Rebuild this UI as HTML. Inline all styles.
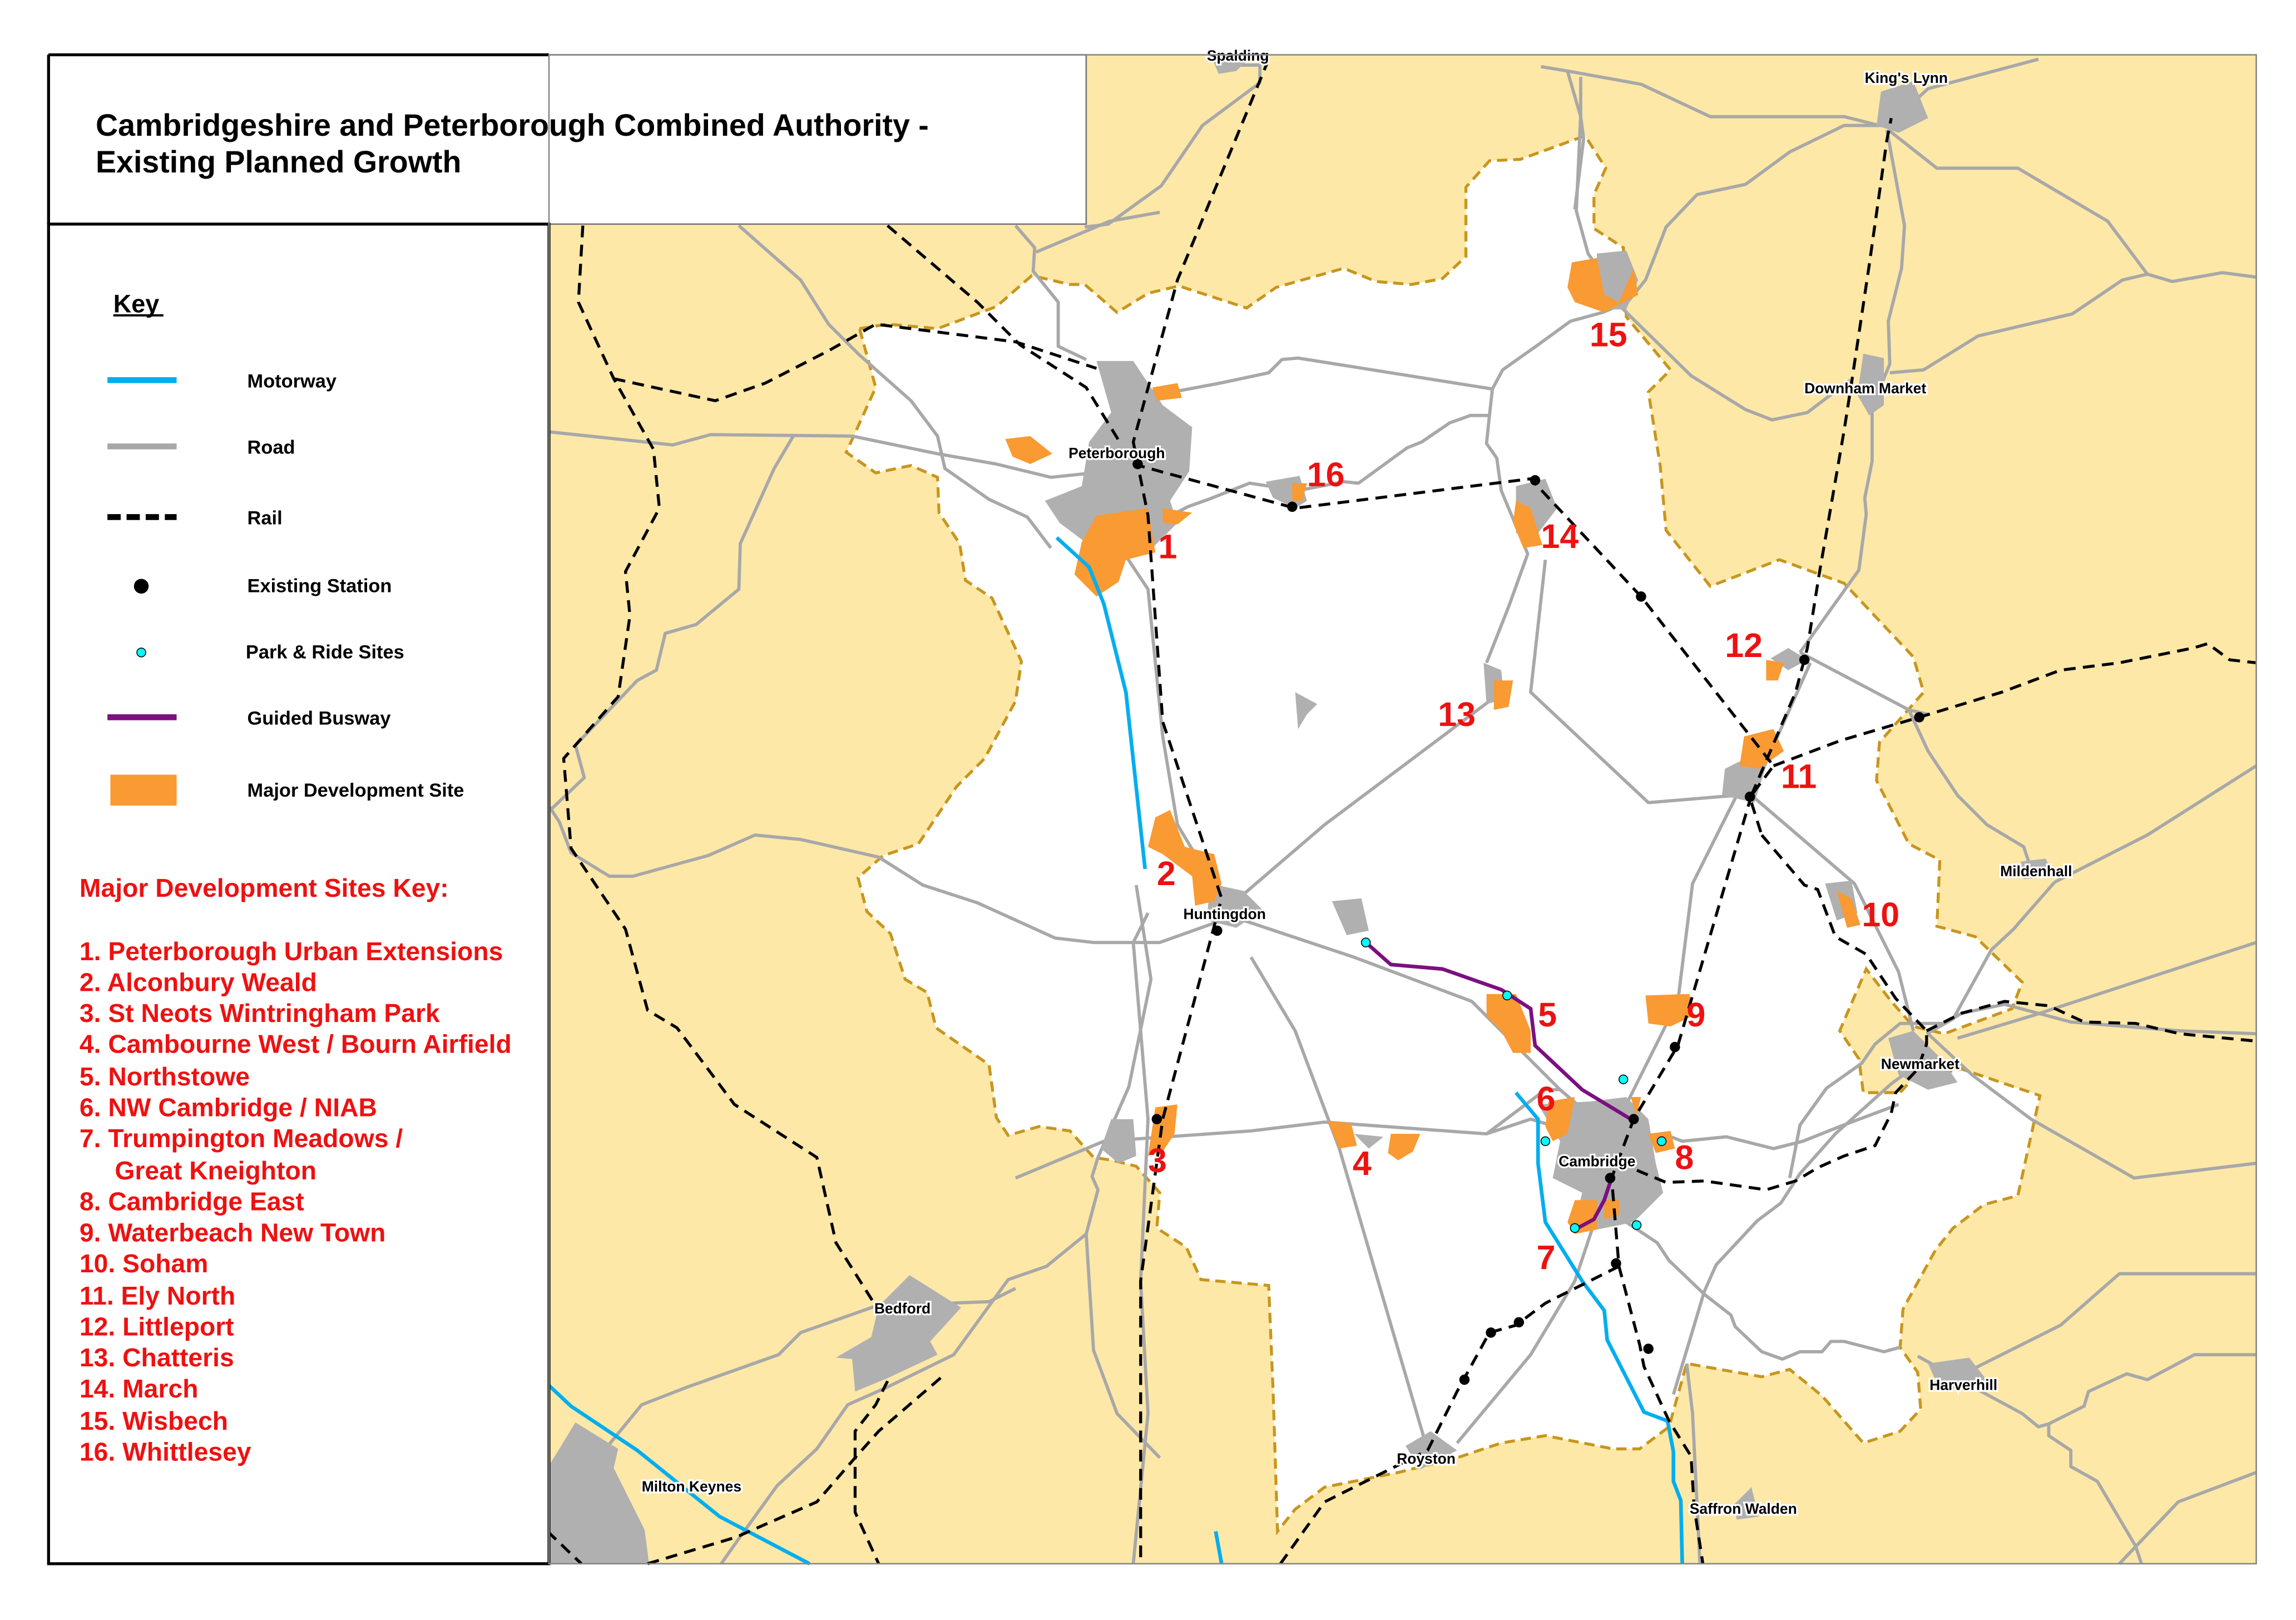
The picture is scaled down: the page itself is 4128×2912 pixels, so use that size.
<!DOCTYPE html>
<html><head><meta charset="utf-8"><style>html,body{margin:0;padding:0;background:#fff}svg{display:block}</style></head>
<body>
<svg width="4128" height="2912" viewBox="0 0 1560 1100" xmlns="http://www.w3.org/2000/svg" font-family="Liberation Sans, sans-serif">
<rect width="1560" height="1100" fill="#fff"/>
<rect x="373" y="37" width="1160" height="1025" fill="#fde8a8"/>
<path d="M584,223 L603,220 L637,223 L677,208 L701,187 L727,193 L737,193 L759,212 L780,199 L801,194 L847,209 L867,195 L913,182 L935,191 L959,193 L980,189 L996,174 L996,127 L1012,109 L1033,108 L1077,92 L1091,114 L1083,132 L1083,155 L1103,168 L1105,215 L1135,251 L1120,266 L1128,316 L1132,360 L1162,398 L1209,380 L1253,396 L1300,446 L1307,470 L1277,504 L1275,530 L1297,573 L1318,584 L1316,629 L1342,636 L1374,667 L1367,685 L1321,702 L1300,697 L1285,680 L1268,658 L1250,700 L1263,719 L1266,742 L1291,742 L1300,732 L1333,726 L1386,744 L1371,812 L1348,818 L1327,834 L1315,849 L1293,889 L1291,915 L1303,932 L1305,957 L1291,972 L1266,980 L1238,948 L1216,930 L1197,935 L1146,926 L1134,969 L1114,984 L1096,984 L1050,975 L1020,980 L990,990 L950,1000 L900,1010 L880,1025 L868,1040 L865,945 L862,873 L816,869 L806,847 L786,834 L788,810 L772,792 L756,788 L743,786 L727,768 L706,765 L685,771 L677,759 L672,723 L636,698 L630,674 L615,665 L605,634 L589,619 L583,596 L600,581 L624,573 L650,534 L669,515 L690,476 L694,449 L674,406 L656,394 L652,369 L638,348 L637,324 L619,316 L595,321 L575,307 L595,263 Z" fill="#fff" stroke="#c8961e" stroke-width="2" stroke-dasharray="7,4"/>
<!-- roads -->
<g fill="none" stroke="#a8a8a8" stroke-width="2.2" stroke-linejoin="round">
<path d="M776,265 L797,266 L829,260 L862,253 L871,244 L882,243 L1014,264 L1021,251 L1045,234 L1067,218 L1089,212 L1103,206"/>
<path d="M1014,264 L1012,282 L999,282 L985,287 L966,300 L956,304 L923,328 L913,327 L882,333 L849,328 L821,339 L807,344 L792,352 L785,347"/>
<path d="M1012,282 L1010,301 L1017,311 L1020,333 L1038,376 L1025,412 L1010,450"/>
<path d="M1070,142 L1076,94 L1074,79 L1065,48 L1047,45"/>
<path d="M1065,48 L1115,57 L1162,79 L1253,79 L1277,85"/>
<path d="M1101,204 L1079,172 L1071,143 L1074,78 L1074,52"/>
<path d="M1105,206 L1118,190 L1132,154 L1153,132 L1186,125 L1216,103 L1253,85 L1283,85 L1310,60 L1385,40"/>
<path d="M1282,88 L1294,153 L1292,182 L1283,218 L1284,247 L1272,276 L1272,313 L1267,338 L1268,349 L1263,387 L1223,443"/>
<path d="M1101,208 L1149,255 L1186,278 L1204,285 L1228,280 L1257,258"/>
<path d="M1284,253 L1307,251 L1344,228 L1408,213 L1442,190 L1459,186 L1476,191 L1510,185 L1533,188"/>
<path d="M1283,88 L1316,114 L1371,114 L1432,150 L1459,186"/>
<path d="M1223,443 L1297,482 L1310,485"/>
<path d="M1297,482 L1310,510 L1330,540 L1350,560 L1375,575 L1380,590"/>
<path d="M1396,599 L1459,567 L1533,520"/>
<path d="M1396,599 L1368,631 L1353,645 L1327,692 L1309,702"/>
<path d="M1309,702 L1333,688 L1362,682 L1407,694 L1481,700 L1533,702"/>
<path d="M1303,921 L1348,946 L1374,960 L1385,969 L1392,967 L1416,955 L1419,945 L1445,933 L1459,937 L1491,920 L1533,920"/>
<path d="M1392,967 L1392,975 L1407,985 L1407,996 L1425,1006 L1451,1050 L1455,1062"/>
<path d="M1105,830 L1126,844 L1134,856 L1158,879 L1176,893 L1179,901 L1197,918 L1211,923 L1223,918 L1238,918 L1244,911 L1253,911 L1280,918 L1291,915"/>
<path d="M1137,947 L1158,877 L1166,859 L1194,829 L1210,817 L1223,797 L1247,770 L1285,736 L1300,725"/>
<path d="M1216,800 L1223,764 L1241,739 L1265,722 L1274,709 L1291,695 L1321,695"/>
<path d="M1130,770 L1143,775 L1173,772 L1205,780 L1225,775 L1250,765 L1290,750"/>
<path d="M1146,926 L1150,960 L1155,1062"/>
<path d="M1310,702 L1340,730 L1380,760 L1450,800 L1533,790"/>
<path d="M1440,1062 L1480,1020 L1533,1000"/>
<path d="M1330,935 L1400,900 L1440,865 L1533,865"/>
<path d="M1533,640 L1380,690 L1330,705"/>
<!-- west -->
<path d="M372,293 L457,302 L483,295 L579,296 L637,308 L677,315 L714,324 L743,321"/>
<path d="M502,153 L544,190 L563,220 L584,241 L619,272 L637,296 L642,318 L672,339 L698,351 L714,372"/>
<path d="M539,296 L526,318 L503,369 L502,400 L473,424 L452,430 L446,455 L433,462 L391,506 L397,528 L375,549"/>
<path d="M372,546 L380,558 L388,579 L414,595 L430,595 L481,581 L513,567 L544,570 L597,582 L627,601 L664,613 L717,637 L743,640 L788,640 L830,625"/>
<path d="M772,601 L782,665 L767,738 L746,786 L742,799 L746,808 L738,838 L711,860 L685,869 L648,920 L603,942 L576,954 L555,984 L528,1009 L502,1045 L490,1062"/>
<path d="M738,838 L743,917 L759,960 L788,990"/>
<path d="M404,993 L436,954 L467,942 L529,920 L544,905 L595,887 L672,884 L690,875"/>
<path d="M690,153 L703,168 L702,184 L719,205 L719,235 L738,244"/>
<path d="M704,171 L754,150 L788,144"/>
<path d="M833,44 L856,44 L856,56 L817,85 L789,126 L753,152 L737,154"/>
<path d="M740,340 L780,400 L790,500 L800,560 L830,610"/>
<path d="M830,620 L920,650 L1000,680 L1060,740 L1095,770"/>
<path d="M690,800 L750,775 L850,768 L900,762 L1010,770 L1040,760 L1090,775 L1130,770"/>
<path d="M1010,770 L1050,740 L1060,740"/>
<path d="M1100,760 L1140,680 L1150,600 L1180,540"/>
<path d="M1180,540 L1120,545 L1040,470 L1050,380"/>
<path d="M1020,470 L900,560 L830,620"/>
<path d="M850,650 L880,700 L910,780 L970,985"/>
<path d="M1190,540 L1230,450"/>
<path d="M1190,540 L1260,600 L1290,660 L1300,700"/>
<path d="M770,1062 L780,960 L775,870 L780,760 L770,640 L780,620"/>
<path d="M1090,810 L1070,870 L1040,920 L990,980"/>
</g>
<!-- other county boundaries (black dashed) -->
<g fill="none" stroke="#000" stroke-width="2" stroke-dasharray="8,5">
<path d="M396,153 L393,205 L417,257 L444,305 L448,345 L425,388 L428,418 L420,473 L383,515 L388,576 L425,631 L440,686 L460,698 L499,750 L555,786 L568,844 L597,890 L604,936 L595,954 L581,972 L581,1003 L581,1027 L597,1062"/>
</g>
<!-- towns -->
<g fill="#b0b0b0">
<path d="M745,245 L770,245 L790,275 L810,290 L808,320 L795,340 L800,355 L780,375 L740,370 L720,355 L710,340 L735,330 L740,300 L755,280 Z"/>
<path d="M1045,750 L1080,748 L1105,745 L1120,760 L1125,790 L1130,810 L1110,830 L1085,835 L1070,830 L1075,810 L1055,800 L1060,775 Z"/>
<path d="M1085,172 L1105,170 L1113,190 L1105,210 L1085,210 Z"/>
<path d="M1278,62 L1300,55 L1310,80 L1290,90 L1275,85 Z"/>
<path d="M1266,240 L1280,243 L1280,275 L1270,282 L1262,268 Z"/>
<path d="M1172,522 L1192,512 L1200,520 L1192,545 L1170,540 Z"/>
<path d="M1203,447 L1215,440 L1228,448 L1215,455 Z"/>
<path d="M1030,330 L1050,325 L1058,345 L1045,362 L1030,362 Z"/>
<path d="M1008,450 L1020,455 L1022,475 L1010,478 Z"/>
<path d="M860,327 L883,323 L888,340 L880,345 L865,338 Z"/>
<path d="M880,470 L895,478 L888,485 L882,495 Z"/>
<path d="M822,600 L845,605 L858,618 L840,630 L820,625 Z"/>
<path d="M905,612 L925,610 L930,632 L915,635 Z"/>
<path d="M1240,600 L1258,598 L1262,620 L1248,625 Z"/>
<path d="M1283,705 L1300,700 L1320,720 L1330,735 L1310,740 L1290,730 Z"/>
<path d="M1373,585 L1390,583 L1395,595 L1375,597 Z"/>
<path d="M1310,926 L1338,922 L1352,940 L1318,944 Z"/>
<path d="M955,982 L972,972 L990,985 L965,998 Z"/>
<path d="M1178,1022 L1190,1010 L1195,1030 L1180,1032 Z"/>
<path d="M597,887 L618,866 L653,888 L632,911 L637,920 L603,936 L581,945 L579,923 L568,922 L592,908 Z"/>
<path d="M372,997 L391,966 L420,984 L417,997 L438,1039 L441,1062 L372,1062 Z"/>
<path d="M755,760 L770,760 L772,785 L760,790 L748,780 Z"/>
<path d="M920,770 L940,772 L930,780 Z"/>
<path d="M823,38 L850,38 L840,48 L828,50 Z"/>
</g>
<!-- development sites -->
<g fill="#f99a32">
<path d="M745,350 L780,345 L785,375 L765,380 L760,395 L745,405 L730,390 L735,368 Z"/>
<path d="M790,345 L810,348 L800,356 L790,355 Z"/>
<path d="M683,298 L700,296 L715,308 L700,315 L688,310 Z"/>
<path d="M783,263 L800,260 L803,270 L786,272 Z"/>
<path d="M785,555 L795,550 L805,575 L825,580 L830,600 L825,612 L812,615 L810,595 L790,580 L780,575 Z"/>
<path d="M785,752 L800,750 L798,770 L790,782 L780,785 Z"/>
<path d="M902,761 L918,763 L922,778 L910,780 Z"/>
<path d="M945,770 L965,770 L960,782 L950,788 L943,783 Z"/>
<path d="M1010,675 L1030,675 L1040,700 L1040,715 L1028,715 L1020,700 L1010,690 Z"/>
<path d="M1118,676 L1148,675 L1150,690 L1135,697 L1120,695 Z"/>
<path d="M1052,748 L1070,745 L1065,770 L1055,775 L1050,765 Z"/>
<path d="M1120,770 L1135,768 L1138,780 L1125,783 Z"/>
<path d="M1070,815 L1085,815 L1085,835 L1070,838 L1065,830 Z"/>
<path d="M1090,815 L1100,815 L1100,825 L1090,828 Z"/>
<path d="M1108,745 L1115,745 L1112,758 Z"/>
<path d="M1068,178 L1085,175 L1090,200 L1100,205 L1110,182 L1113,200 L1090,212 L1070,205 L1065,195 Z"/>
<path d="M1030,340 L1040,345 L1048,370 L1035,372 L1028,355 Z"/>
<path d="M1015,462 L1028,462 L1025,480 L1015,482 Z"/>
<path d="M1185,500 L1205,495 L1212,510 L1195,522 L1182,520 Z"/>
<path d="M1200,448 L1212,450 L1208,462 L1200,462 Z"/>
<path d="M1248,605 L1258,610 L1264,628 L1255,630 Z"/>
<path d="M878,328 L888,328 L885,340 L878,340 Z"/>
</g>
<!-- motorways -->
<g fill="none" stroke="#00aeef" stroke-width="2.5">
<path d="M718,365 L740,385 L750,410 L765,470 L778,590"/>
<path d="M1030,742 L1045,760 L1045,790 L1050,830 L1075,870 L1090,890 L1092,910 L1117,959 L1133,965 L1137,986 L1137,1006 L1142,1019 L1143,1062"/>
<path d="M372,940 L388,955 L433,985 L489,1030 L550,1062"/>
<path d="M826,1040 L830,1062"/>
</g>
<!-- busway -->
<g fill="none" stroke="#7b1080" stroke-width="2.5">
<path d="M928,640 L945,655 L980,658 L1020,672 L1040,685 L1043,710 L1075,740 L1108,760"/>
<path d="M1070,835 L1083,828 L1090,815 L1095,800"/>
</g>
<!-- rails -->
<g fill="none" stroke="#000" stroke-width="2" stroke-dasharray="8,5">
<path d="M862,40 L800,190 L770,300 L780,350 L790,490 L830,610 L790,760 L775,870 L775,1062"/>
<path d="M770,315 L880,345 L1040,325 L1115,405 L1205,520 L1190,540"/>
<path d="M1190,540 L1140,710 L1110,760 L1095,800 L1100,860 L1114,913 L1117,928 L1134,965 L1149,989 L1151,1023 L1157,1062"/>
<path d="M1190,540 L1220,470 L1228,440 L1236,390 L1253,292 L1258,260 L1270,180 L1282,95 L1285,80"/>
<path d="M1205,520 L1250,503 L1304,487 L1360,470 L1400,455 L1440,450 L1490,440 L1500,437 L1515,448 L1533,450"/>
<path d="M1197,567 L1226,601 L1235,604 L1247,636 L1268,648 L1288,678 L1309,700 L1309,709 L1303,726 L1288,742 L1285,756 L1274,778 L1253,785 L1235,793 L1220,802 L1200,808 L1158,802 L1132,803 L1108,793"/>
<path d="M1190,545 L1197,567"/>
<path d="M1309,700 L1333,688 L1362,680 L1392,683 L1416,694 L1451,695 L1481,702 L1533,707"/>
<path d="M1100,860 L1050,885 L1030,900 L1012,905 L990,945 L970,985 L900,1020 L870,1062"/>
<path d="M603,153 L664,205 L693,234 L738,263 L762,302"/>
<path d="M417,257 L486,272 L520,260 L563,238 L595,220 L690,232 L745,250"/>
<path d="M372,1040 L395,1062"/>
<path d="M440,1062 L500,1044 L555,1020 L581,990 L597,972 L640,935"/>
</g>
<!-- stations -->
<g fill="#000">
<circle cx="773" cy="315" r="3.5"/><circle cx="878" cy="344" r="3.5"/><circle cx="1043" cy="326" r="3.5"/>
<circle cx="1115" cy="405" r="3.5"/><circle cx="1226" cy="448" r="3.5"/><circle cx="1304" cy="487" r="3.5"/>
<circle cx="1189" cy="541" r="3.5"/><circle cx="1138" cy="711" r="3.5"/>
<circle cx="1110" cy="760" r="3.5"/><circle cx="1094" cy="800" r="3.5"/><circle cx="1098" cy="858" r="3.5"/>
<circle cx="1120" cy="916" r="3.5"/><circle cx="1032" cy="898" r="3.5"/><circle cx="1013" cy="905" r="3.5"/>
<circle cx="995" cy="937" r="3.5"/><circle cx="827" cy="632" r="3.5"/><circle cx="786" cy="760" r="3.5"/>
</g>
<g fill="#00ffff" stroke="#000" stroke-width="0.6">
<circle cx="928" cy="640" r="3"/><circle cx="1024" cy="676" r="3"/><circle cx="1103" cy="733" r="3"/>
<circle cx="1050" cy="775" r="3"/><circle cx="1129" cy="775" r="3"/><circle cx="1070" cy="834" r="3"/><circle cx="1112" cy="832" r="3"/>
</g>
<g font-size="10" font-weight="bold" fill="#000" stroke="#fff" stroke-width="2.5" paint-order="stroke">
<text x="820" y="41">Spalding</text>
<text x="1267" y="56">King's Lynn</text>
<text x="1226" y="267">Downham Market</text>
<text x="726" y="311">Peterborough</text>
<text x="804" y="624">Huntingdon</text>
<text x="1359" y="595">Mildenhall</text>
<text x="1278" y="726">Newmarket</text>
<text x="1059" y="792">Cambridge</text>
<text x="594" y="892">Bedford</text>
<text x="1311" y="944">Harverhill</text>
<text x="949" y="994">Royston</text>
<text x="436" y="1013">Milton Keynes</text>
<text x="1148" y="1028">Saffron Walden</text>
</g>
<g font-size="23" font-weight="bold" fill="#ee1111">
<text x="787" y="379">1</text><text x="786" y="601">2</text><text x="780" y="796">3</text><text x="919" y="798">4</text>
<text x="1045" y="697">5</text><text x="1044" y="754">6</text><text x="1044" y="862">7</text><text x="1138" y="794">8</text>
<text x="1146" y="697">9</text><text x="1265" y="629">10</text><text x="1210" y="535">11</text><text x="1172" y="446">12</text>
<text x="977" y="493">13</text><text x="1047" y="372">14</text><text x="1080" y="235">15</text><text x="888" y="330">16</text>
</g>
<rect x="33" y="37" width="705" height="115" fill="#fff" stroke="#777" stroke-width="1"/>
<line x1="33" y1="37" x2="373" y2="37" stroke="#000" stroke-width="2"/>
<line x1="33" y1="37" x2="33" y2="152" stroke="#000" stroke-width="2"/>
<text x="65" y="92" font-size="21" font-weight="bold">Cambridgeshire and Peterborough Combined Authority  -</text>
<text x="65" y="117" font-size="21" font-weight="bold">Existing Planned Growth</text>
<rect x="33" y="152" width="340" height="910" fill="#fff" stroke="#000" stroke-width="2"/>
<text x="77" y="212" font-size="17" font-weight="bold">Key</text>
<line x1="77" y1="214" x2="111" y2="214" stroke="#000" stroke-width="1.5"/>
<line x1="73" y1="258" x2="120" y2="258" stroke="#00aeef" stroke-width="4"/>
<line x1="73" y1="303" x2="120" y2="303" stroke="#a8a8a8" stroke-width="4"/>
<line x1="73" y1="351" x2="120" y2="351" stroke="#000" stroke-width="4" stroke-dasharray="9,4"/>
<circle cx="96" cy="398" r="5" fill="#000"/>
<circle cx="96" cy="443" r="3" fill="#00ffff" stroke="#000" stroke-width="0.6"/>
<line x1="73" y1="487" x2="120" y2="487" stroke="#7b1080" stroke-width="4"/>
<rect x="75" y="526" width="45" height="21" fill="#f99a32"/>
<g font-size="13" font-weight="bold">
<text x="168" y="263">Motorway</text><text x="168" y="308">Road</text><text x="168" y="356">Rail</text>
<text x="168" y="402">Existing Station</text><text x="167" y="447">Park &amp; Ride Sites</text>
<text x="168" y="492">Guided Busway</text><text x="168" y="541">Major Development Site</text>
</g>
<g font-size="17.5" font-weight="bold" fill="#ee1111">
<text x="54" y="609">Major Development Sites Key:</text>
<text x="54" y="652">1. Peterborough Urban Extensions</text>
<text x="54" y="673">2. Alconbury Weald</text>
<text x="54" y="694">3. St Neots Wintringham Park</text>
<text x="54" y="715">4. Cambourne West / Bourn Airfield</text>
<text x="54" y="737">5. Northstowe</text>
<text x="54" y="758">6. NW Cambridge / NIAB</text>
<text x="54" y="779">7. Trumpington Meadows /</text>
<text x="78" y="801">Great Kneighton</text>
<text x="54" y="822">8. Cambridge East</text>
<text x="54" y="843">9. Waterbeach New Town</text>
<text x="54" y="864">10. Soham</text>
<text x="54" y="886">11. Ely North</text>
<text x="54" y="907">12. Littleport</text>
<text x="54" y="928">13. Chatteris</text>
<text x="54" y="949">14. March</text>
<text x="54" y="971">15. Wisbech</text>
<text x="54" y="992">16. Whittlesey</text>
</g>
<rect x="373" y="37" width="1160" height="1025" fill="none" stroke="#888" stroke-width="1"/>
</svg>
</body></html>
